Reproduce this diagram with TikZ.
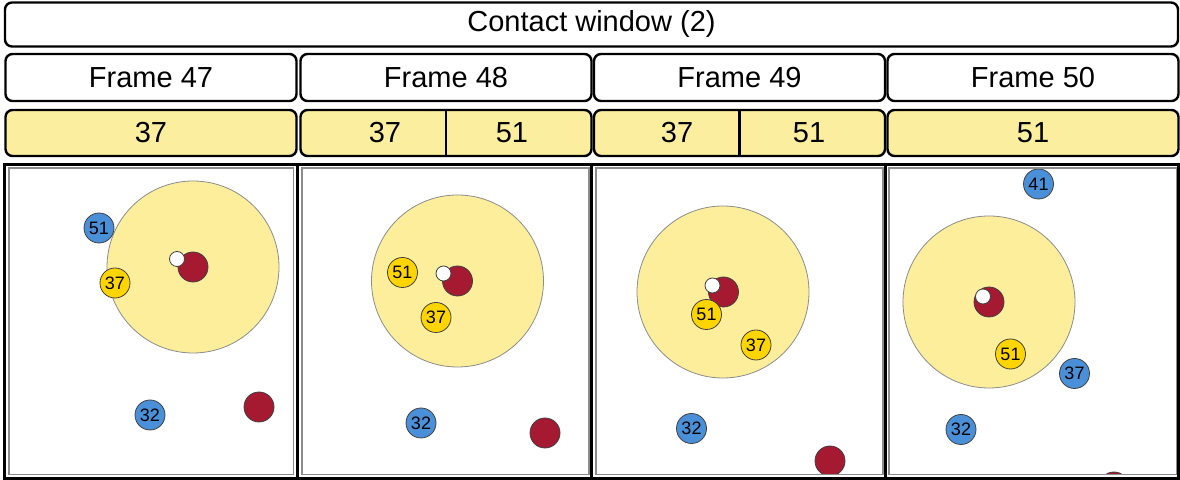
\documentclass[tikz,border=0pt]{standalone}
\usepackage{fontspec}
\setmainfont{Liberation Sans}
\definecolor{zoneY}{HTML}{FDEE9C}
\definecolor{hdrY}{HTML}{FBEE9E}
\definecolor{objB}{HTML}{4A90D9}
\definecolor{objG}{HTML}{FFD500}
\definecolor{objR}{HTML}{A51931}
\newcommand{\hfont}{\fontsize{14.5}{17}\selectfont}
\newcommand{\ofont}{\fontsize{9}{10}\selectfont}
\begin{document}
\begin{tikzpicture}[x=0.5pt,y=-0.5pt,
  hdr/.style={draw, line width=1.2pt, rounded corners=3.5pt, fill=white, inner sep=0pt, font=\hfont, minimum height=23.5pt, minimum width=145.5pt},
  ybox/.style={hdr, fill=hdrY, minimum height=23pt},
  ytext/.style={inner sep=0pt, font=\hfont},
  divider/.style={line width=1.2pt},
  panelout/.style={line width=1.5pt},
  panelin/.style={draw=black!45, line width=0.6pt},
  zone/.style={circle, fill=zoneY, draw=black!45, line width=0.4pt, minimum size=86pt, inner sep=0pt},
  obj/.style={circle, draw=black!75, line width=0.4pt, minimum size=15pt, inner sep=0pt, font=\ofont},
  blueobj/.style={obj, fill=objB},
  goldobj/.style={obj, fill=objG},
  redobj/.style={obj, fill=objR},
  egoobj/.style={circle, fill=white, draw=black!75, line width=0.4pt, minimum size=7.5pt, inner sep=0pt}
]
\useasboundingbox (0,0) rectangle (1180,480);

% title
\node[hdr, minimum width=586.5pt, minimum height=22pt] (title) at (591.5,24.5) {Contact window (2)};

% frame headers
\node[hdr] (f47) at (151,77.5) {Frame 47};
\node[hdr] (f48) at (446,77.5) {Frame 48};
\node[hdr] (f49) at (739.5,77.5) {Frame 49};
\node[hdr] (f50) at (1033,77.5) {Frame 50};

% yellow id row
\node[ybox] (y47) at (151,133) {37};
\node[ybox] (y48) at (446,133) {};
\draw[divider] (y48.north) -- (y48.south);
\node[ytext] (y48a) at (385,133) {37};
\node[ytext] (y48b) at (512,133) {51};
\node[ybox] (y49) at (739.5,133) {};
\draw[divider] (y49.north) -- (y49.south);
\node[ytext] (y49a) at (677,133) {37};
\node[ytext] (y49b) at (809,133) {51};
\node[ybox] (y50) at (1033,133) {51};

% panel 1
\begin{scope}
  \clip (9,168) rectangle (293.5,474.5);
  \node[zone] (z1) at (193,267) {};
  \node[redobj] (r1) at (193,267) {};
  \node[egoobj] (e1) at (177,259) {};
  \node[blueobj] (p1b51) at (99,228) {51};
  \node[goldobj] (p1g37) at (115,283) {37};
  \node[blueobj] (p1b32) at (150,415) {32};
  \node[redobj] (p1r) at (259,407) {};
\end{scope}
\draw[panelin] (9,168) rectangle (293.5,474.5);

% panel 2
\begin{scope}
  \clip (302,168) rectangle (589,474.5);
  \node[zone] (z2) at (457.5,281) {};
  \node[redobj] (r2) at (457.5,281) {};
  \node[egoobj] (e2) at (443.5,273.5) {};
  \node[goldobj] (p2g51) at (402.5,272.5) {51};
  \node[goldobj] (p2g37) at (436,317.5) {37};
  \node[blueobj] (p2b32) at (421,423) {32};
  \node[redobj] (p2r) at (545,433) {};
\end{scope}
\draw[panelin] (302,168) rectangle (589,474.5);

% panel 3
\begin{scope}
  \clip (596,168) rectangle (883,474.5);
  \node[zone] (z3) at (723,292) {};
  \node[redobj] (r3) at (723.5,292) {};
  \node[egoobj] (e3) at (712.5,285.5) {};
  \node[goldobj] (p3g51) at (706.5,314.5) {51};
  \node[goldobj] (p3g37) at (756,345) {37};
  \node[blueobj] (p3b32) at (691.5,428.5) {32};
  \node[redobj] (p3r) at (830,461) {};
\end{scope}
\draw[panelin] (596,168) rectangle (883,474.5);

% panel 4
\begin{scope}
  \clip (889,168) rectangle (1177,474.5);
  \node[zone] (z4) at (989,302) {};
  \node[redobj] (r4) at (989,302) {};
  \node[egoobj] (e4) at (983,296.5) {};
  \node[goldobj] (p4g51) at (1010.5,354) {51};
  \node[blueobj] (p4b37) at (1074.5,373.5) {37};
  \node[blueobj] (p4b41) at (1038.5,184) {41};
  \node[blueobj] (p4b32) at (961,429.5) {32};
  \node[redobj] (p4r) at (1114,487) {};
\end{scope}
\draw[panelin] (889,168) rectangle (1177,474.5);

% panel outer borders
\draw[panelout] (4.5,164.5) rectangle (297.5,478.5);
\draw[panelout] (297.5,164.5) rectangle (591.5,478.5);
\draw[panelout] (591.5,164.5) rectangle (885,478.5);
\draw[panelout] (885,164.5) rectangle (1178.5,478.5);
\end{tikzpicture}
\end{document}
